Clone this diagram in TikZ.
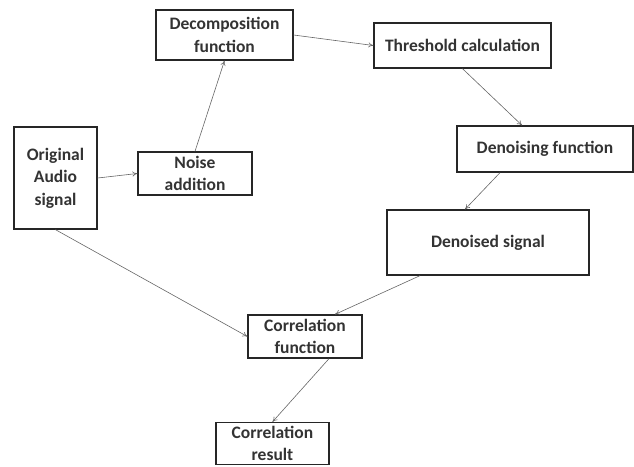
\documentclass[tikz,border=0pt]{standalone}
\usepackage{fontspec}
\setmainfont{Carlito}
\usetikzlibrary{arrows.meta}
\begin{document}
\begin{tikzpicture}[x=1pt,y=-1pt,
  box/.style={draw=black!85,line width=1.3pt,inner sep=0pt,align=center,
    font=\fontsize{17.5}{22.5}\selectfont\bfseries,text=black!80},
  conn/.style={draw=black!60,line width=0.6pt,-{To[length=5pt,width=5pt]}}]
\useasboundingbox (0,0) rectangle (634,466);
\node[box,minimum width=137pt,minimum height=50pt] (dec) at (224.5,35) {Decomposition\\function};
\node[box,minimum width=177pt,minimum height=45pt] (thr) at (462.5,45.5) {Threshold calculation};
\node[box,minimum width=83pt,minimum height=102pt] (orig) at (55.5,178) {Original\\Audio\\signal};
\node[box,minimum width=114pt,minimum height=43pt] (noise) at (195,173.5) {Noise\\addition};
\node[box,minimum width=176pt,minimum height=46pt] (dnf) at (545,149) {Denoising function};
\node[box,minimum width=202pt,minimum height=65pt] (dns) at (488,242.5) {Denoised signal};
\node[box,minimum width=114pt,minimum height=43pt] (cf) at (305,336.5) {Correlation\\function};
\node[box,minimum width=113pt,minimum height=42pt] (cr) at (272.5,443.5) {Correlation\\result};
\draw[conn] (orig.east) -- (noise.west);
\draw[conn] (noise.north) -- (dec.south);
\draw[conn] (dec.east) -- (thr.west);
\draw[conn] (thr.south) -- ([xshift=-23pt]dnf.north);
\draw[conn] ([xshift=-45pt]dnf.south) -- ([xshift=-23pt]dns.north);
\draw[conn] (orig.south) -- (cf.west);
\draw[conn] ([xshift=-68pt]dns.south) -- ([xshift=30pt]cf.north);
\draw[conn] ([xshift=24pt]cf.south) -- (cr.north);
\end{tikzpicture}
\end{document}
